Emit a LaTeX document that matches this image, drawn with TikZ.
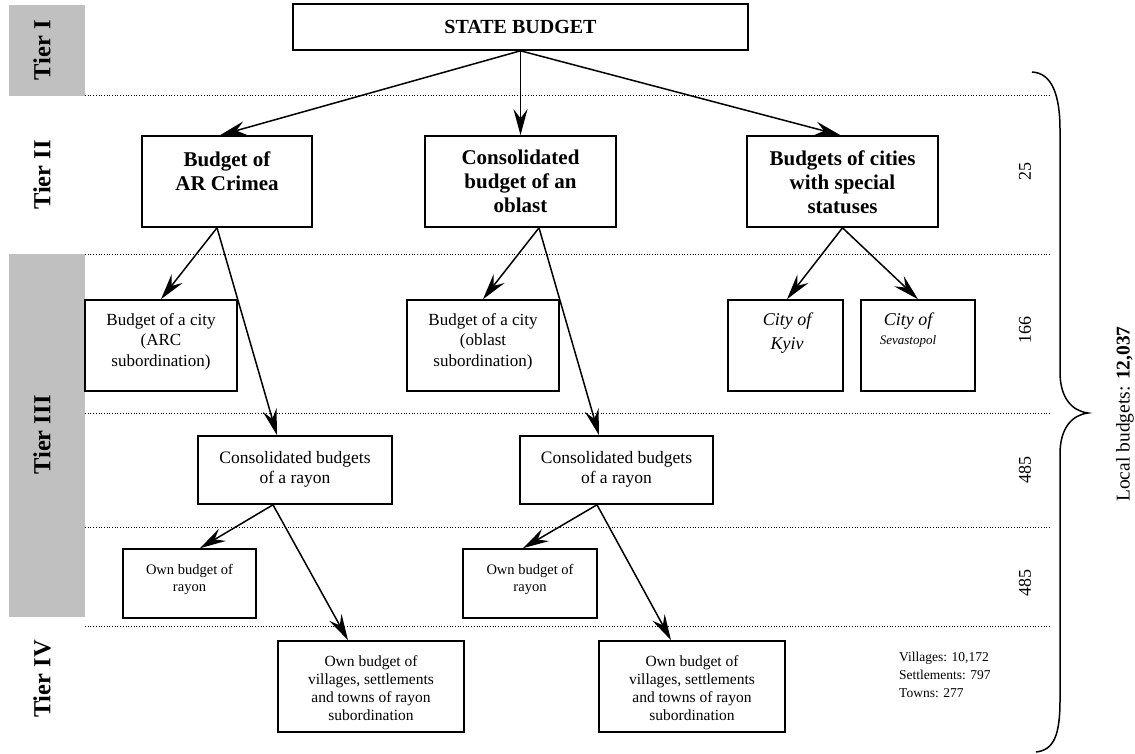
\documentclass[tikz,border=0pt]{standalone}
\usepackage{fontspec}
\setmainfont{Liberation Serif}
\usetikzlibrary{arrows.meta}
\definecolor{tiergray}{RGB}{192,192,192}
\tikzset{
  box/.style={draw, line width=1.6pt, inner sep=0pt, fill=white},
  txt/.style={inner sep=0pt, align=center, anchor=north},
  arr/.style={line width=1.5pt, -{Stealth[length=26pt,width=14pt,inset=9pt]}},
  sepline/.style={line width=1pt, dash pattern=on 1pt off 1.7pt},
  tierband/.style={fill=tiergray, draw=none},
  tierlabel/.style={rotate=90, inner sep=0pt, font=\fontsize{24.5}{28}\selectfont\bfseries},
  countlabel/.style={rotate=90, inner sep=0pt, font=\fontsize{18}{20}\selectfont},
  bigbold/.style={font=\fontsize{21}{24}\selectfont\bfseries},
  midtext/.style={font=\fontsize{17}{20.5}\selectfont},
  raytext/.style={font=\fontsize{17.5}{20}\selectfont},
  owntext/.style={font=\fontsize{14.5}{17}\selectfont},
  viltext/.style={font=\fontsize{15.5}{18}\selectfont},
  brace/.style={line width=1.5pt},
}
\begin{document}
\begin{tikzpicture}[x=1pt,y=-1pt]
\useasboundingbox (0,0) rectangle (1135,754);

% tier bands
\fill[tierband] (9,5) rectangle (85,96);
\fill[tierband] (9,254) rectangle (85,617);
\node[tierlabel] (t1) at (42,50) {Tier I};
\node[tierlabel] (t2) at (42,175) {Tier II};
\node[tierlabel] (t3) at (42,435) {Tier III};
\node[tierlabel] (t4) at (42,679) {Tier IV};

% separators
\foreach \yy in {96,254,413,527,626} \draw[sepline] (85,\yy) -- (1049,\yy);

% Tier I
\node[box, minimum width=455pt, minimum height=46pt, font=\fontsize{20}{24}\selectfont\bfseries] (sb) at (520.5,27) {STATE BUDGET};

% Tier II
\node[box, minimum width=170pt, minimum height=91pt] (crimea) at (227,181.5) {};
\node[txt, bigbold] (crimea-t) at ([yshift=-16pt]crimea.north) {Budget of\\AR Crimea};
\node[box, minimum width=191pt, minimum height=91pt] (oblast) at (520.5,181.5) {};
\node[txt, bigbold] (oblast-t) at ([yshift=-15pt]oblast.north) {Consolidated\\budget of an\\oblast};
\node[box, minimum width=191pt, minimum height=91pt] (cities) at (842.5,181.5) {};
\node[txt, bigbold] (cities-t) at ([yshift=-15pt]cities.north) {Budgets of cities\\with special\\statuses};

% Tier III row 1
\node[box, minimum width=152pt, minimum height=91pt] (arc) at (161,345.5) {};
\node[txt, midtext] (arc-t) at ([yshift=-14pt]arc.north) {Budget of a city\\(ARC\\subordination)};
\node[box, minimum width=152pt, minimum height=91pt] (obc) at (483,345.5) {};
\node[txt, midtext] (obc-t) at ([yshift=-14pt]obc.north) {Budget of a city\\(oblast\\subordination)};
\node[box, minimum width=115pt, minimum height=91pt] (kyiv) at (785.5,345.5) {};
\node[txt, font=\fontsize{18}{24}\selectfont\itshape] (kyiv-t) at ([xshift=1.5pt,yshift=-13pt]kyiv.north) {City of\\Kyiv};
\node[box, minimum width=114pt, minimum height=91pt] (sev) at (918,345.5) {};
\node[txt, font=\fontsize{18}{19}\selectfont\itshape] (sev-t) at ([xshift=-10pt,yshift=-13pt]sev.north) {City of\\{\fontsize{13}{14}\selectfont Sevastopol}};

% Tier III row 2
\node[box, minimum width=194pt, minimum height=68pt] (ray1) at (295,470) {};
\node[txt, raytext] (ray1-t) at ([yshift=-16pt]ray1.north) {Consolidated budgets\\of a rayon};
\node[box, minimum width=193pt, minimum height=68pt] (ray2) at (616.5,470) {};
\node[txt, raytext] (ray2-t) at ([yshift=-16pt]ray2.north) {Consolidated budgets\\of a rayon};

% Tier III row 3
\node[box, minimum width=133pt, minimum height=69pt] (own1) at (189.5,583.5) {};
\node[txt, owntext] (own1-t) at ([yshift=-16pt]own1.north) {Own budget of\\rayon};
\node[box, minimum width=134pt, minimum height=69pt] (own2) at (530,583.5) {};
\node[txt, owntext] (own2-t) at ([yshift=-16pt]own2.north) {Own budget of\\rayon};

% Tier IV
\node[box, minimum width=186pt, minimum height=91pt] (vil1) at (371,686.5) {};
\node[txt, viltext] (vil1-t) at ([yshift=-15pt]vil1.north) {Own budget of\\villages, settlements\\and towns of rayon\\subordination};
\node[box, minimum width=186pt, minimum height=91pt] (vil2) at (692,686.5) {};
\node[txt, viltext] (vil2-t) at ([yshift=-15pt]vil2.north) {Own budget of\\villages, settlements\\and towns of rayon\\subordination};

% arrows
\draw[arr] (sb.south) -- ([xshift=-7pt]crimea.north);
\draw[arr] (sb.south) -- (oblast.north);
\draw[arr] (sb.south) -- ([xshift=-2pt]cities.north);
\draw[arr] ([xshift=-10pt]crimea.south) -- (arc.north);
\draw[arr] ([xshift=-10pt]crimea.south) -- ([xshift=-18pt]ray1.north);
\draw[arr] ([xshift=18.5pt]oblast.south) -- (obc.north);
\draw[arr] ([xshift=18.5pt]oblast.south) -- ([xshift=-17.5pt]ray2.north);
\draw[arr] (cities.south) -- ([xshift=1.5pt]kyiv.north);
\draw[arr] (cities.south) -- (sev.north);
\draw[arr] ([xshift=-22pt]ray1.south) -- ([xshift=10.5pt]own1.north);
\draw[arr] ([xshift=-22pt]ray1.south) -- ([xshift=-23pt]vil1.north);
\draw[arr] ([xshift=-19.5pt]ray2.south) -- ([xshift=-7pt]own2.north);
\draw[arr] ([xshift=-19.5pt]ray2.south) -- ([xshift=-21pt]vil2.north);

% counts
\node[countlabel] (c25) at (1025,172) {25};
\node[countlabel] (c166) at (1025,330) {166};
\node[countlabel] (c485a) at (1025,470) {485};
\node[countlabel] (c485b) at (1025,583) {485};
\node[anchor=north west, inner sep=0pt, align=left, font=\fontsize{13.5}{18}\selectfont] (stats) at (899,652) {Villages: 10,172\\Settlements: 797\\Towns: 277};

% brace
\draw[brace] (1032,72) .. controls (1052,73) and (1060,95) .. (1060,130)
  -- (1060,372) .. controls (1060,398) and (1072,411) .. (1088,413)
  .. controls (1072,415) and (1060,428) .. (1060,454)
  -- (1060,700) .. controls (1060,735) and (1054,750) .. (1036,752);
\node[rotate=90, inner sep=0pt, font=\fontsize{19.5}{22}\selectfont] (local) at (1125,414) {Local budgets: \textbf{12,037}};
\end{tikzpicture}
\end{document}
